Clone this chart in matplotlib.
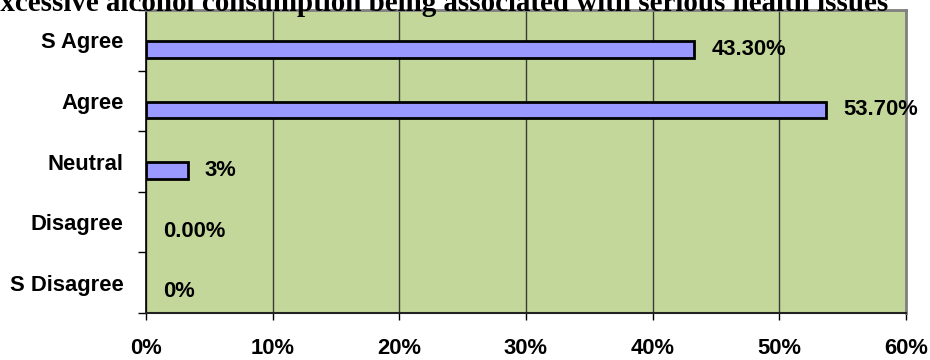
import matplotlib as mpl; mpl.use("Agg")
import matplotlib.pyplot as plt
from matplotlib.ticker import FixedLocator, FuncFormatter

# survey responses, top to bottom
categories = ["S Agree", "Agree", "Neutral", "Disagree", "S Disagree"]
shares = [0.433, 0.537, 0.033, 0.0, 0.0]
label_fmt = ["{:.2%}", "{:.2%}", "{:.0%}", "{:.2%}", "{:.0%}"]
x_ticks = [0.0, 0.1, 0.2, 0.3, 0.4, 0.5, 0.6]
title = "Excessive alcohol consumption being associated with serious health issues"

BG = "#C4D79B"
BAR = "#9999FF"
SANS = ["Liberation Sans", "DejaVu Sans"]
SERIF = ["Liberation Serif", "DejaVu Serif"]
FS = 15.8

W, H, DPI = 930, 360, 100
fig = plt.figure(figsize=(W / DPI, H / DPI), dpi=DPI)
fig.patch.set_facecolor("white")
ax = fig.add_axes([146 / W, 47 / H, 760 / W, 303 / H])
ax.set_facecolor(BG)

ypos = list(range(len(categories)))
bar_y = [y + 0.15 for y in ypos]
edges = ["black" if v > 0 else "none" for v in shares]
ax.barh(bar_y, shares, height=0.28, color=BAR, edgecolor=edges, linewidth=2, zorder=3)

for y, v, fmt in zip(bar_y, shares, label_fmt):
    ax.annotate(fmt.format(v), xy=(v, y), xytext=(12, 0), textcoords="offset points",
                ha="left", va="center", fontsize=FS, fontweight="bold",
                family=SANS, annotation_clip=False, zorder=4)

ax.set_xlim(0, 0.6)
ax.set_ylim(len(categories) - 0.5, -0.5)

ax.xaxis.set_major_locator(FixedLocator(x_ticks))
ax.xaxis.set_major_formatter(FuncFormatter(lambda v, _: f"{v:.0%}"))
ax.grid(axis="x", color="#3a3a3a", linewidth=1.0, zorder=1)
ax.set_axisbelow(True)

ax.set_yticks(ypos)
ax.set_yticklabels(categories)
ax.set_yticks([y - 0.5 for y in range(len(categories) + 1)], minor=True)
ax.tick_params(axis="y", which="major", length=0, pad=16)
ax.tick_params(axis="y", which="minor", length=6, width=1, direction="out", color="black")
ax.tick_params(axis="x", length=5, width=1, direction="out", pad=13)
for lab in ax.get_xticklabels() + ax.get_yticklabels():
    lab.set_fontfamily(SANS)
    lab.set_fontweight("bold")
    lab.set_fontsize(FS)

ax.spines["left"].set_color("black")
ax.spines["left"].set_linewidth(1.2)
ax.spines["bottom"].set_color("#222222")
ax.spines["bottom"].set_linewidth(1.5)
for side in ("top", "right"):
    ax.spines[side].set_color("#808080")
    ax.spines[side].set_linewidth(2)

# title sits partly above the canvas edge
t = fig.text(435 / W, 1 - 11 / H, title, ha="center", va="baseline",
             fontsize=20, fontweight="bold", family=SERIF)
fig.canvas.draw()
bb = t.get_window_extent()
t.set_fontsize(20 * 905 / bb.width)

fig.savefig("out.png", dpi=DPI)
